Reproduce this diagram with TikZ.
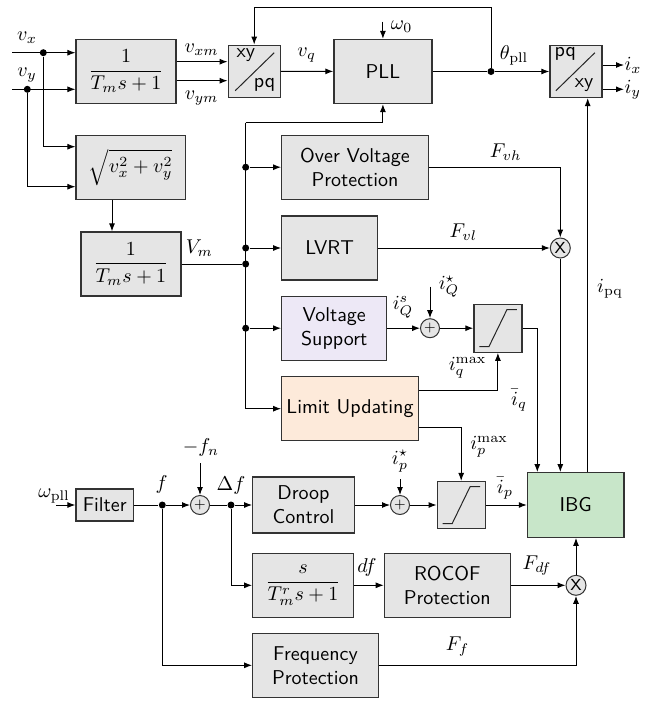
\documentclass[tikz,border=0pt]{standalone}
\usetikzlibrary{arrows.meta}
\definecolor{boxgray}{RGB}{229,229,229}
\definecolor{vsfill}{RGB}{237,232,246}
\definecolor{lufill}{RGB}{253,234,218}
\definecolor{ibgfill}{RGB}{200,230,201}
\newcommand\satsym[1]{\draw[line] ([shift={(-18.5,18.5)}]#1.center) -- ++(9.5,0) -- ++(18,-37) -- ++(10,0);}
\begin{document}
\begin{tikzpicture}[x=0.5pt,y=-0.5pt,
  >={Latex[length=4pt,width=3pt]},
  line/.style={draw=black!85, line width=0.5pt},
  every path/.style={line width=0.5pt},
  blk/.style={draw=black!80, line width=0.6pt, fill=boxgray, inner sep=1pt, align=center, font=\sffamily},
  sumc/.style={circle, draw=black!80, line width=0.5pt, fill=boxgray, minimum size=9.5pt, inner sep=0pt, font=\sffamily\scriptsize},
  mulc/.style={circle, draw=black!80, line width=0.5pt, fill=boxgray, minimum size=10pt, inner sep=0pt, font=\sffamily\footnotesize},
  dot/.style={circle, fill=black, inner sep=0pt, minimum size=3.5pt},
  lbl/.style={inner sep=0pt}
]
\useasboundingbox (0,0) rectangle (661,702);

% ---------- blocks ----------
\node[blk, minimum width=50pt, minimum height=32pt] (b1) at (126,71.3) {$\displaystyle\frac{1}{T_m s+1}$};
\node[blk, minimum width=26pt, minimum height=26pt] (xypq) at (254.2,71.2) {};
\node[blk, minimum width=49pt, minimum height=32pt] (pll) at (382.9,71.5) {PLL};
\node[blk, minimum width=26pt, minimum height=26pt] (pqxy) at (575.9,71.5) {};
\node[blk, minimum width=54.7pt, minimum height=32pt] (sqrt) at (130.7,167.2) {$\sqrt{v_x^2+v_y^2}$};
\node[blk, minimum width=50pt, minimum height=32pt] (b2) at (130.9,264) {$\displaystyle\frac{1}{T_m s+1}$};
\node[blk, minimum width=73.3pt, minimum height=32pt] (ovp) at (355,167.2) {Over Voltage\\Protection};
\node[blk, minimum width=48pt, minimum height=32pt] (lvrt) at (329.7,248) {LVRT};
\node[blk, fill=vsfill, minimum width=52.5pt, minimum height=32pt] (vs) at (334.2,328.2) {Voltage\\Support};
\node[blk, fill=lufill, minimum width=68.3pt, minimum height=32pt] (lu) at (350,408.7) {Limit Updating};
\node[blk, minimum width=24pt, minimum height=24pt] (satq) at (497.9,328.2) {};
\node[blk, minimum width=28.7pt, minimum height=16pt] (filter) at (104.7,505) {Filter};
\node[blk, minimum width=50.8pt, minimum height=28pt] (droop) at (303.5,505) {Droop\\Control};
\node[blk, minimum width=24pt, minimum height=23.5pt] (satp) at (461.2,505) {};
\node[blk, fill=ibgfill, minimum width=48.3pt, minimum height=32.3pt] (ibg) at (575.7,505) {IBG};
\node[blk, minimum width=50.3pt, minimum height=32pt] (sbox) at (303,585.3) {$\displaystyle\frac{s}{T_m^r s+1}$};
\node[blk, minimum width=63pt, minimum height=32pt] (rocof) at (447.3,585.3) {ROCOF\\Protection};
\node[blk, minimum width=62.8pt, minimum height=32pt] (fp) at (315.5,665.3) {Frequency\\Protection};

% circles
\node[mulc] (mul1) at (560.3,248) {X};
\node[sumc] (sumq) at (430,328.2) {+};
\node[sumc] (sump) at (400,505) {+};
\node[sumc] (sumf) at (200,505) {+};
\node[mulc] (mul2) at (576,585.3) {X};

% transforms interior
\draw[line] ([shift={(-19,19.5)}]xypq.center) -- ([shift={(20,-18.5)}]xypq.center);
\node[lbl, font=\sffamily] at (245.8,55) {xy};
\node[lbl, font=\sffamily] at (264.5,84.5) {pq};
\draw[line] ([shift={(-20,19.2)}]pqxy.center) -- ([shift={(19,-18.8)}]pqxy.center);
\node[lbl, font=\sffamily] at (565.3,54) {pq};
\node[lbl, font=\sffamily] at (584,85.5) {xy};
\satsym{satq}
\satsym{satp}

% dots
\node[dot] (dvx) at (43.3,52.7) {};
\node[dot] (dvy) at (27.3,89.3) {};
\node[dot] (dth) at (491,71.5) {};
\node[dot] (d1) at (245.7,167.2) {};
\node[dot] (d2) at (245.7,248) {};
\node[dot] (d3) at (245.7,264) {};
\node[dot] (d4) at (245.7,328.2) {};
\node[dot] (df1) at (162.3,505) {};
\node[dot] (dDf) at (231,505) {};

% free ends / helpers
\coordinate (vxin) at (12,52.7);
\coordinate (vyin) at (12,89.3);
\coordinate (fbtop) at (254.2,7.3);
\coordinate (w0) at (382.9,21.7);
\coordinate (ix) at (624,65);
\coordinate (iy) at (624,89.3);
\coordinate (bustop) at (245.7,122.7);
\coordinate (busbot) at (245.7,408.7);
\coordinate (ipqx) at (587.7,0);
\coordinate (iqx) at (537.3,0);
\coordinate (iqs) at (430,286.7);
\coordinate (ips) at (400,479);
\coordinate (wpll) at (56,505);
\coordinate (fn) at (200,463.3);

% ---------- connectors ----------
\draw[->] (vxin) -- (vxin -| b1.west);
\draw[->] (vyin) -- (vyin -| b1.west);
\draw[->] (dvx) |- ([yshift=10.25pt]sqrt.west);
\draw[->] (dvy) |- ([yshift=-9.75pt]sqrt.west);
\draw[->] ([yshift=4.8pt]b1.east) -- ([yshift=4.8pt]b1.east -| xypq.west);
\draw[->] ([yshift=-4.7pt]b1.east) -- ([yshift=-4.7pt]b1.east -| xypq.west);
\draw[->] (sqrt.south -| 112,0) -- (b2.north -| 112,0);
\draw (b2.east) -- (d3);
\draw[->] (xypq) -- (pll);
\draw (pll) -- (dth);
\draw[->] (dth) -- (pqxy);
\draw[->] (dth) -- (dth |- fbtop) -- (fbtop) -- (xypq.north);
\draw[->] (w0) -- (pll.north);
\draw[->] (pqxy.east |- ix) -- (ix);
\draw[->] (pqxy.east |- iy) -- (iy);
\draw (bustop) -- (busbot);
\draw[->] (bustop) -| (pll.south);
\draw[->] (busbot) -- (busbot -| lu.west);
\draw[->] (d1) -- (ovp.west);
\draw[->] (d2) -- (lvrt.west);
\draw[->] (d4) -- (vs.west);
\draw[->] (ovp.east) -| (mul1.north);
\draw[->] (lvrt.east) -- (mul1.west);
\draw[->] (mul1.south) -- (mul1.south |- ibg.north);
\draw[->] (ipqx |- ibg.north) -- (ipqx |- pqxy.south);
\draw[->] (vs.east) -- (sumq.west);
\draw[->] (iqs) -- (sumq.north);
\draw[->] (sumq.east) -- (satq.west);
\draw[->] (satq.east) -| (iqx |- ibg.north);
\draw[->] ([yshift=9.35pt]lu.east) -| (satq.south);
\draw[->] ([yshift=-9.5pt]lu.east) -| (satp.north);
\draw[->] (wpll) -- (filter.west);
\draw (filter.east) -- (df1);
\draw[->] (df1) -- (sumf.west);
\draw[->] (fn) -- (sumf.north);
\draw (sumf.east) -- (dDf);
\draw[->] (dDf) -- (droop.west);
\draw[->] (dDf) |- (sbox.west);
\draw[->] (df1) |- (fp.west);
\draw[->] (droop.east) -- (sump.west);
\draw[->] (ips) -- (sump.north);
\draw[->] (sump.east) -- (satp.west);
\draw[->] (satp.east) -- (ibg.west);
\draw[->] (sbox.east) -- (rocof.west);
\draw[->] (rocof.east) -- (mul2.west);
\draw[->] (fp.east) -| (mul2.south);
\draw[->] (mul2.north) -- (mul2.north |- ibg.south);

% ---------- labels ----------
\node[lbl] at (27,38) {$v_x$};
\node[lbl] at (27,75) {$v_y$};
\node[lbl] at (201.7,50) {$v_{xm}$};
\node[lbl] at (201.7,98) {$v_{ym}$};
\node[lbl] at (306.7,55) {$v_q$};
\node[lbl] at (401.7,26.7) {$\omega_0$};
\node[lbl] at (514,55) {$\theta_{\mathrm{pll}}$};
\node[lbl, anchor=west] at (ix) {$i_x$};
\node[lbl, anchor=west] at (iy) {$i_y$};
\node[lbl] at (505.7,151.7) {$F_{vh}$};
\node[lbl] at (463.3,231.7) {$F_{vl}$};
\node[lbl] at (199.3,248.3) {$V_m$};
\node[lbl] at (610,288.3) {$i_{\mathrm{pq}}$};
\node[lbl] at (403,307) {$i_Q^s$};
\node[lbl] at (449,286.7) {$i_Q^\star$};
\node[lbl] at (467.5,368) {$i_q^{\max}$};
\node[lbl] at (519,400) {$\bar{i}_q$};
\node[lbl] at (489,447) {$i_p^{\max}$};
\node[lbl] at (400,461) {$i_p^\star$};
\node[lbl] at (505,488) {$\bar{i}_p$};
\node[lbl] at (54,496) {$\omega_{\mathrm{pll}}$};
\node[lbl] at (161.7,484) {$f$};
\node[lbl] at (201,447) {$-f_n$};
\node[lbl] at (231,485) {$\Delta f$};
\node[lbl] at (367,567) {$df$};
\node[lbl] at (537,566) {$F_{df}$};
\node[lbl] at (457.5,647) {$F_f$};
\end{tikzpicture}
\end{document}
